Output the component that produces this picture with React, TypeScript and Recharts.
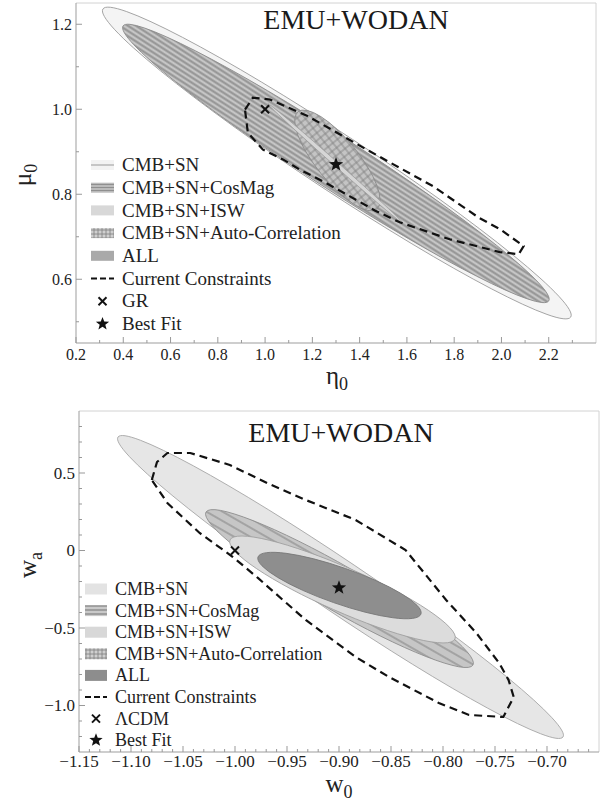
import React from 'react';
import { ScatterChart, Scatter, XAxis, YAxis, Legend, ReferenceLine, Customized } from 'recharts';

const FONT = '"Liberation Serif", "Times New Roman", serif';
const INK = '#222';
const serif = { fontFamily: FONT };

// ---------- top panel: eta0 / mu0 ----------
const topXMajor = [0.2, 0.4, 0.6, 0.8, 1.0, 1.2, 1.4, 1.6, 1.8, 2.0, 2.2];
const topXMinor = [0.3, 0.5, 0.7, 0.9, 1.1, 1.3, 1.5, 1.7, 1.9, 2.1, 2.3];
const topYMajor = [0.6, 0.8, 1.0, 1.2];
const topYMinor = [0.5, 0.7, 0.9, 1.1];

// contours: both ends of the long axis, then the upper edge above the centre
const topCmbSn = [{ x: 0.314, y: 1.236 }, { x: 2.293, y: 0.511 }, { x: 1.304, y: 0.953 }];
const topCosMag = [{ x: 0.399, y: 1.196 }, { x: 2.2, y: 0.549 }, { x: 1.3, y: 0.945 }];
const topAuto = [{ x: 1.139, y: 0.994 }, { x: 1.473, y: 0.765 }, { x: 1.306, y: 0.952 }];
const topIsw = [{ x: 1.012, y: 1.013 }, { x: 1.583, y: 0.732 }, { x: 1.298, y: 0.879 }];
const topCurrent = [
  { x: 0.915, y: 0.999 }, { x: 0.948, y: 1.027 }, { x: 1.02, y: 1.023 }, { x: 1.177, y: 0.985 },
  { x: 1.43, y: 0.905 }, { x: 1.71, y: 0.819 }, { x: 1.904, y: 0.745 }, { x: 1.993, y: 0.718 },
  { x: 2.094, y: 0.678 }, { x: 2.073, y: 0.659 }, { x: 1.993, y: 0.664 }, { x: 1.781, y: 0.694 },
  { x: 1.57, y: 0.734 }, { x: 1.464, y: 0.762 }, { x: 1.359, y: 0.795 }, { x: 1.253, y: 0.828 },
  { x: 1.147, y: 0.858 }, { x: 1.075, y: 0.882 }, { x: 0.991, y: 0.905 }, { x: 0.927, y: 0.945 },
  { x: 0.915, y: 0.999 },
];
const topGR = [{ x: 1.0, y: 1.0 }];
const topBest = [{ x: 1.3, y: 0.87 }];
const topLegend = ['CMB+SN', 'CMB+SN+CosMag', 'CMB+SN+ISW', 'CMB+SN+Auto-Correlation', 'ALL', 'Current Constraints', 'GR', 'Best Fit'];

// ---------- bottom panel: w0 / wa ----------
const botXMajor = [-1.15, -1.1, -1.05, -1.0, -0.95, -0.9, -0.85, -0.8, -0.75, -0.7];
const botXMinor = [
  -1.14, -1.13, -1.12, -1.11, -1.09, -1.08, -1.07, -1.06, -1.04, -1.03, -1.02, -1.01,
  -0.99, -0.98, -0.97, -0.96, -0.94, -0.93, -0.92, -0.91, -0.89, -0.88, -0.87, -0.86,
  -0.84, -0.83, -0.82, -0.81, -0.79, -0.78, -0.77, -0.76, -0.74, -0.73, -0.72, -0.71,
  -0.69, -0.68, -0.67, -0.66,
];
const botYMajor = [0.5, 0, -0.5, -1.0];
const botYMinor = [0.8, 0.7, 0.6, 0.4, 0.3, 0.2, 0.1, -0.1, -0.2, -0.3, -0.4, -0.6, -0.7, -0.8, -0.9, -1.1, -1.2];

const botCmbSn = [{ x: -1.1125, y: 0.732 }, { x: -0.6846, y: -1.203 }, { x: -0.8985, y: -0.0355 }];
const botCosMag = [{ x: -1.0279, y: 0.248 }, { x: -0.7712, y: -0.739 }, { x: -0.8996, y: -0.078 }];
const botIsw = [{ x: -1.0048, y: 0.068 }, { x: -0.7885, y: -0.571 }, { x: -0.8966, y: -0.097 }];
const botAll = [{ x: -0.9779, y: -0.042 }, { x: -0.8212, y: -0.41 }, { x: -0.8995, y: -0.103 }];
const botCurrent = [
  { x: -1.08, y: 0.455 }, { x: -1.075, y: 0.571 }, { x: -1.065, y: 0.629 }, { x: -1.043, y: 0.629 },
  { x: -1.005, y: 0.552 }, { x: -0.969, y: 0.435 }, { x: -0.932, y: 0.326 }, { x: -0.884, y: 0.197 },
  { x: -0.836, y: 0.003 }, { x: -0.797, y: -0.319 }, { x: -0.768, y: -0.532 }, { x: -0.746, y: -0.726 },
  { x: -0.737, y: -0.835 }, { x: -0.732, y: -0.945 }, { x: -0.742, y: -1.074 }, { x: -0.775, y: -1.061 },
  { x: -0.804, y: -0.984 }, { x: -0.852, y: -0.816 }, { x: -0.884, y: -0.687 }, { x: -0.932, y: -0.448 },
  { x: -0.954, y: -0.319 }, { x: -0.978, y: -0.177 }, { x: -1.002, y: -0.042 }, { x: -1.034, y: 0.113 },
  { x: -1.065, y: 0.306 }, { x: -1.08, y: 0.455 },
];
const botLcdm = [{ x: -1.0, y: 0.0 }];
const botBest = [{ x: -0.9, y: -0.24 }];
const botLegend = ['CMB+SN', 'CMB+SN+CosMag', 'CMB+SN+ISW', 'CMB+SN+Auto-Correlation', 'ALL', 'Current Constraints', '\u039BCDM', 'Best Fit'];

// ---------- drawing helpers ----------
const noDot = () => <g />;

function starPath(cx: number, cy: number, R: number, r: number) {
  let d = '';
  for (let i = 0; i < 10; i++) {
    const ang = -Math.PI / 2 + (i * Math.PI) / 5;
    const rad = i % 2 ? r : R;
    d += (i ? 'L' : 'M') + (cx + rad * Math.cos(ang)).toFixed(2) + ',' + (cy + rad * Math.sin(ang)).toFixed(2);
  }
  return d + 'Z';
}

const crossMark = (cx: number, cy: number, s = 4) => (
  <g stroke="#111" strokeWidth={2}>
    <line x1={cx - s} y1={cy - s} x2={cx + s} y2={cy + s} />
    <line x1={cx - s} y1={cy + s} x2={cx + s} y2={cy - s} />
  </g>
);
const starMark = (cx: number, cy: number, R = 7.5) => <path d={starPath(cx, cy, R, R * 0.42)} fill="#111" />;

const crossDot = (p: any) => crossMark(p.cx, p.cy);
const starDot = (p: any) => starMark(p.cx, p.cy);

function hatch(id: string, step: number, bg: string, ink: string, w: number) {
  return (
    <pattern id={id} width={8} height={step} patternUnits="userSpaceOnUse">
      <rect width={8} height={step} fill={bg} />
      <line x1={0} x2={8} y1={step / 2} y2={step / 2} stroke={ink} strokeWidth={w} />
    </pattern>
  );
}
function grid(id: string, step: number, bg: string, ink: string) {
  return (
    <pattern id={id} width={step} height={step} patternUnits="userSpaceOnUse">
      <rect width={step} height={step} fill={bg} />
      <line x1={0} x2={step} y1={step / 2} y2={step / 2} stroke={ink} strokeWidth={0.8} />
      <line x1={step / 2} x2={step / 2} y1={0} y2={step} stroke={ink} strokeWidth={0.8} />
    </pattern>
  );
}

// receives the three contour points already mapped through the chart scales
function Contour(props: any) {
  const { points, fillColor, edgeColor, edgeWidth = 0.8, pattern } = props;
  if (!points || points.length < 3) return null;
  const [p1, p2, pe] = points;
  const cx = (p1.x + p2.x) / 2;
  const cy = (p1.y + p2.y) / 2;
  const a = Math.hypot(p2.x - p1.x, p2.y - p1.y) / 2;
  const th = Math.atan2(p2.y - p1.y, p2.x - p1.x);
  const ex = pe.x - cx;
  const ey = pe.y - cy;
  const u = ex * Math.cos(th) + ey * Math.sin(th);
  const v = -ex * Math.sin(th) + ey * Math.cos(th);
  const b = Math.abs(v) / Math.sqrt(Math.max(1e-4, 1 - (u * u) / (a * a)));
  return (
    <g>
      {pattern ? <defs>{pattern}</defs> : null}
      <ellipse
        cx={cx}
        cy={cy}
        rx={a}
        ry={b}
        transform={`rotate(${(th * 180) / Math.PI} ${cx} ${cy})`}
        fill={fillColor}
        stroke={edgeColor}
        strokeWidth={edgeWidth}
      />
    </g>
  );
}

const isIn = (arr: number[], v: number) => arr.some((m) => Math.abs(m - v) < 1e-9);

const makeXTick = (majors: number[], fmt: (v: number) => string, fontSize: number, gap: number) => (p: any) => {
  const v = p.payload.value;
  const major = isIn(majors, v);
  return (
    <g>
      <line x1={p.x} x2={p.x} y1={p.y} y2={p.y - (major ? 6 : 3)} stroke="#999" />
      {major ? (
        <text x={p.x} y={p.y + gap} textAnchor="middle" style={serif} fontSize={fontSize} fill={INK}>
          {fmt(v)}
        </text>
      ) : null}
    </g>
  );
};
const makeYTick = (majors: number[], fmt: (v: number) => string, fontSize: number) => (p: any) => {
  const v = p.payload.value;
  const major = isIn(majors, v);
  return (
    <g>
      <line x1={p.x} x2={p.x + (major ? 6 : 3)} y1={p.y} y2={p.y} stroke="#999" />
      {major ? (
        <text x={p.x - 4} y={p.y} dy="0.35em" textAnchor="end" style={serif} fontSize={fontSize} fill={INK}>
          {fmt(v)}
        </text>
      ) : null}
    </g>
  );
};

const minus = (s: string) => s.replace('-', '\u2212');

function Texts(props: any) {
  const { title, tx, ty, xMain, xSub, xx, xy, yMain, ySub, yx, yy } = props;
  return (
    <g style={serif} fill={INK}>
      <text x={tx} y={ty} textAnchor="middle" fontSize={28} style={serif} fill="#1a1a1a">{title}</text>
      <text x={xx} y={xy} textAnchor="middle" fontSize={25} style={serif}>
        <tspan>{xMain}</tspan>
        <tspan fontSize={18} dy={6}>{xSub}</tspan>
      </text>
      <text x={yx} y={yy} textAnchor="middle" fontSize={25} style={serif} transform={`rotate(-90 ${yx} ${yy})`}>
        <tspan>{yMain}</tspan>
        <tspan fontSize={18} dy={6}>{ySub}</tspan>
      </text>
    </g>
  );
}

// legend swatch kinds, per panel
function Swatch({ kind, x, y, w, h, ids }: any) {
  const top = y - h / 2;
  switch (kind) {
    case 'outline':
      return (
        <g>
          <rect x={x} y={top} width={w} height={h} fill="#f3f3f3" />
          <line x1={x} x2={x + w} y1={y} y2={y} stroke="#999" strokeWidth={1} />
        </g>
      );
    case 'light':
      return <rect x={x} y={top} width={w} height={h} fill="#e3e3e3" />;
    case 'hatch':
      return <rect x={x} y={top} width={w} height={h} fill={`url(#${ids.hatch})`} />;
    case 'isw':
      return <rect x={x} y={top} width={w} height={h} fill="#d8d8d8" />;
    case 'grid':
      return <rect x={x} y={top} width={w} height={h} fill={`url(#${ids.grid})`} />;
    case 'allTop':
      return <rect x={x} y={top} width={w} height={h} fill="#a9a9a9" />;
    case 'allBot':
      return <rect x={x} y={top} width={w} height={h} fill="#8d8d8d" />;
    case 'dash':
      return <line x1={x} x2={x + w} y1={y} y2={y} stroke="#111" strokeWidth={2} strokeDasharray="6 3" />;
    case 'cross':
      return crossMark(x + w / 2, y, 4);
    case 'star':
      return starMark(x + w / 2, y, 7);
    default:
      return null;
  }
}

const legendContent = (labels: string[], kinds: string[], o: any) => () => (
  <svg width={320} height={200} style={{ display: 'block', overflow: 'visible' }}>
    <defs>
      {hatch(o.ids.hatch, o.hatchStep, o.hatchBg, o.hatchInk, o.hatchW)}
      {grid(o.ids.grid, 4, '#cfcfcf', '#7d7d7d')}
    </defs>
    {labels.map((lab, i) => {
      const y = o.y0 + i * o.dy;
      return (
        <g key={lab}>
          <Swatch kind={kinds[i]} x={o.sx} y={y} w={o.sw} h={o.sh} ids={o.ids} />
          <text x={o.tx} y={y} dy="0.33em" style={serif} fontSize={o.fs} fill={INK}>
            {lab}
          </text>
        </g>
      );
    })}
  </svg>
);

const topKinds = ['outline', 'hatch', 'isw', 'grid', 'allTop', 'dash', 'cross', 'star'];
const botKinds = ['light', 'hatch', 'isw', 'grid', 'allBot', 'dash', 'cross', 'star'];

function TopPanel() {
  return (
    <ScatterChart width={612} height={400} margin={{ top: 3, right: 16, bottom: 0, left: 0 }}>
      <XAxis
        type="number"
        dataKey="x"
        domain={[0.2, 2.4]}
        ticks={[...topXMajor, ...topXMinor].sort((a, b) => a - b)}
        interval={0}
        height={57}
        tickSize={0}
        tickMargin={0}
        tickLine={false}
        axisLine={{ stroke: '#9d9d9d' }}
        tick={makeXTick(topXMajor, (v) => v.toFixed(1), 16, 17)}
      />
      <YAxis
        type="number"
        dataKey="y"
        domain={[0.45, 1.25]}
        ticks={[...topYMajor, ...topYMinor].sort((a, b) => a - b)}
        interval={0}
        width={76}
        tickSize={0}
        tickMargin={0}
        tickLine={false}
        axisLine={{ stroke: '#9d9d9d' }}
        tick={makeYTick(topYMajor, (v) => v.toFixed(1), 16)}
      />
      <ReferenceLine y={1.25} stroke="#d2d2d2" />
      <ReferenceLine x={2.4} stroke="#d2d2d2" />
      <Scatter data={topCmbSn} isAnimationActive={false} shape={noDot} line={<Contour fillColor="#f4f4f4" edgeColor="#9a9a9a" />} />
      <Scatter
        data={topCosMag}
        isAnimationActive={false}
        shape={noDot}
        line={<Contour fillColor="url(#topHatch)" edgeColor="#888" pattern={hatch('topHatch', 4.4, '#c6c6c6', '#939393', 2)} />}
      />
      <Scatter
        data={topAuto}
        isAnimationActive={false}
        shape={noDot}
        line={<Contour fillColor="url(#topGrid)" edgeColor="#8a8a8a" pattern={grid('topGrid', 6, '#c4c4c4', '#7a7a7a')} />}
      />
      <Scatter data={topIsw} isAnimationActive={false} shape={noDot} line={<Contour fillColor="#d6d6d6" edgeColor="#9a9a9a" edgeWidth={0.7} />} />
      <Scatter
        data={topCurrent}
        isAnimationActive={false}
        shape={noDot}
        line={{ stroke: '#111', strokeWidth: 2.2, strokeDasharray: '8 5' }}
      />
      <Scatter data={topGR} isAnimationActive={false} shape={crossDot} />
      <Scatter data={topBest} isAnimationActive={false} shape={starDot} />
      <Customized
        component={
          <Texts title="EMU+WODAN" tx={356} ty={29} xMain={'\u03B7'} xSub="0" xx={337} xy={384} yMain={'\u03BC'} ySub="0" yx={31} yy={175} />
        }
      />
      <Legend
        layout="vertical"
        align="center"
        verticalAlign="middle"
        wrapperStyle={{ position: 'absolute', left: 0, top: 0, width: 320, height: 200 }}
        content={legendContent(topLegend, topKinds, {
          ids: { hatch: 'lgTopHatch', grid: 'lgTopGrid' },
          hatchStep: 3, hatchBg: '#cacaca', hatchInk: '#8f8f8f', hatchW: 1.5,
          y0: 165, dy: 22.7, sx: 91, sw: 23, sh: 10, tx: 122, fs: 19,
        })}
      />
    </ScatterChart>
  );
}

function BottomPanel() {
  return (
    <ScatterChart width={612} height={403} margin={{ top: 11, right: 13, bottom: 0, left: 0 }}>
      <XAxis
        type="number"
        dataKey="x"
        domain={[-1.15, -0.65]}
        ticks={[...botXMajor, ...botXMinor].sort((a, b) => a - b)}
        interval={0}
        height={51}
        tickSize={0}
        tickMargin={0}
        tickLine={false}
        axisLine={{ stroke: '#9d9d9d' }}
        tick={makeXTick(botXMajor, (v) => minus(v.toFixed(2)), 17, 15)}
      />
      <YAxis
        type="number"
        dataKey="y"
        domain={[-1.3, 0.9]}
        ticks={[...botYMajor, ...botYMinor].sort((a, b) => a - b)}
        interval={0}
        width={79}
        tickSize={0}
        tickMargin={0}
        tickLine={false}
        axisLine={{ stroke: '#9d9d9d' }}
        tick={makeYTick(botYMajor, (v) => (v === 0 ? '0' : minus(v.toFixed(1))), 17)}
      />
      <ReferenceLine y={0.9} stroke="#d2d2d2" />
      <ReferenceLine x={-0.65} stroke="#d2d2d2" />
      <Scatter data={botCmbSn} isAnimationActive={false} shape={noDot} line={<Contour fillColor="#e6e6e6" edgeColor="#a5a5a5" />} />
      <Scatter
        data={botCosMag}
        isAnimationActive={false}
        shape={noDot}
        line={<Contour fillColor="url(#botHatch)" edgeColor="#8c8c8c" pattern={hatch('botHatch', 8, '#c6c6c6', '#909090', 1.3)} />}
      />
      <Scatter data={botIsw} isAnimationActive={false} shape={noDot} line={<Contour fillColor="#dcdcdc" edgeColor="#a0a0a0" />} />
      <Scatter data={botAll} isAnimationActive={false} shape={noDot} line={<Contour fillColor="#8e8e8e" edgeColor="#777" />} />
      <Scatter
        data={botCurrent}
        isAnimationActive={false}
        shape={noDot}
        line={{ stroke: '#111', strokeWidth: 2.2, strokeDasharray: '8 5' }}
      />
      <Scatter data={botLcdm} isAnimationActive={false} shape={crossDot} />
      <Scatter data={botBest} isAnimationActive={false} shape={starDot} />
      <Customized
        component={
          <Texts title="EMU+WODAN" tx={341} ty={42} xMain="w" xSub="0" xx={339} xy={392} yMain="w" ySub="a" yx={36} yy={165} />
        }
      />
      <Legend
        layout="vertical"
        align="center"
        verticalAlign="middle"
        wrapperStyle={{ position: 'absolute', left: 0, top: 0, width: 320, height: 360 }}
        content={legendContent(botLegend, botKinds, {
          ids: { hatch: 'lgBotHatch', grid: 'lgBotGrid' },
          hatchStep: 4, hatchBg: '#c9c9c9', hatchInk: '#8c8c8c', hatchW: 1.4,
          y0: 189, dy: 21.6, sx: 85, sw: 22, sh: 11, tx: 115, fs: 18,
        })}
      />
    </ScatterChart>
  );
}

export default function App() {
  return (
    <div style={{ position: 'absolute', left: 0, top: 0, width: 612, height: 803, background: '#fff' }}>
      <TopPanel />
      <BottomPanel />
    </div>
  );
}
